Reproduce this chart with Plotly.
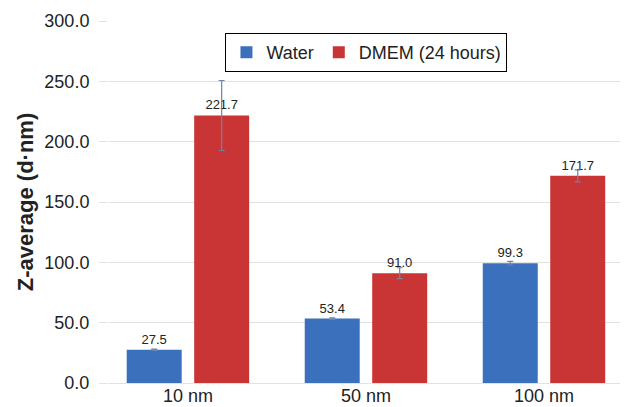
import plotly.graph_objects as go

categories = ["10 nm", "50 nm", "100 nm"]
water = [27.5, 53.4, 99.3]
water_err = [0.5, 0.6, 1.5]
dmem = [221.7, 91.0, 171.7]
dmem_err = [29.0, 4.5, 5.0]
yticks = [0, 50, 100, 150, 200, 250, 300]

fig = go.Figure()
fig.add_trace(go.Bar(
    name="Water", x=categories, y=water,
    marker=dict(color="#3A70BC", line=dict(width=0)),
    error_y=dict(type="data", array=water_err, color="#6F82B0", thickness=1.2, width=3),
    text=[f"{v:.1f}" for v in water], textposition="outside",
    textfont=dict(size=13, color="#222"), cliponaxis=False,
))
fig.add_trace(go.Bar(
    name="DMEM (24 hours)", x=categories, y=dmem,
    marker=dict(color="#C93535", line=dict(width=0)),
    error_y=dict(type="data", array=dmem_err, color="#6F82B0", thickness=1.2, width=3),
    text=[f"{v:.1f}" for v in dmem], textposition="outside",
    textfont=dict(size=13, color="#222"), cliponaxis=False,
))

fig.update_layout(
    width=620, height=399,
    margin=dict(l=100, r=8, t=13, b=24),
    paper_bgcolor="white", plot_bgcolor="white",
    font=dict(family="Liberation Sans, Arial, sans-serif", color="#222"),
    barmode="group", bargap=0.242, bargroupgap=0.185,
    legend=dict(
        orientation="h", x=0.229, y=0.967, xanchor="left", yanchor="top",
        bordercolor="black", borderwidth=1.2, bgcolor="white",
        font=dict(size=18), itemsizing="constant",
    ),
    showlegend=True,
)
fig.update_xaxes(
    range=[-0.449, 2.427], showgrid=False, showline=False, ticks="",
    tickfont=dict(size=18), automargin=False,
)
fig.update_yaxes(
    range=[0, 300], tickvals=yticks, tickformat=".1f",
    showgrid=True, gridcolor="#E2E2E2", gridwidth=1.2,
    zeroline=True, zerolinecolor="#E2E2E2", zerolinewidth=1.2,
    ticks="outside", ticklen=8, tickcolor="#E2E2E2",
    ticklabelstandoff=6,
    tickfont=dict(size=18), automargin=False,
    title=dict(text="<b>Z-average (d·nm)</b>", font=dict(size=22), standoff=4),
)

fig.write_html("out.html")
